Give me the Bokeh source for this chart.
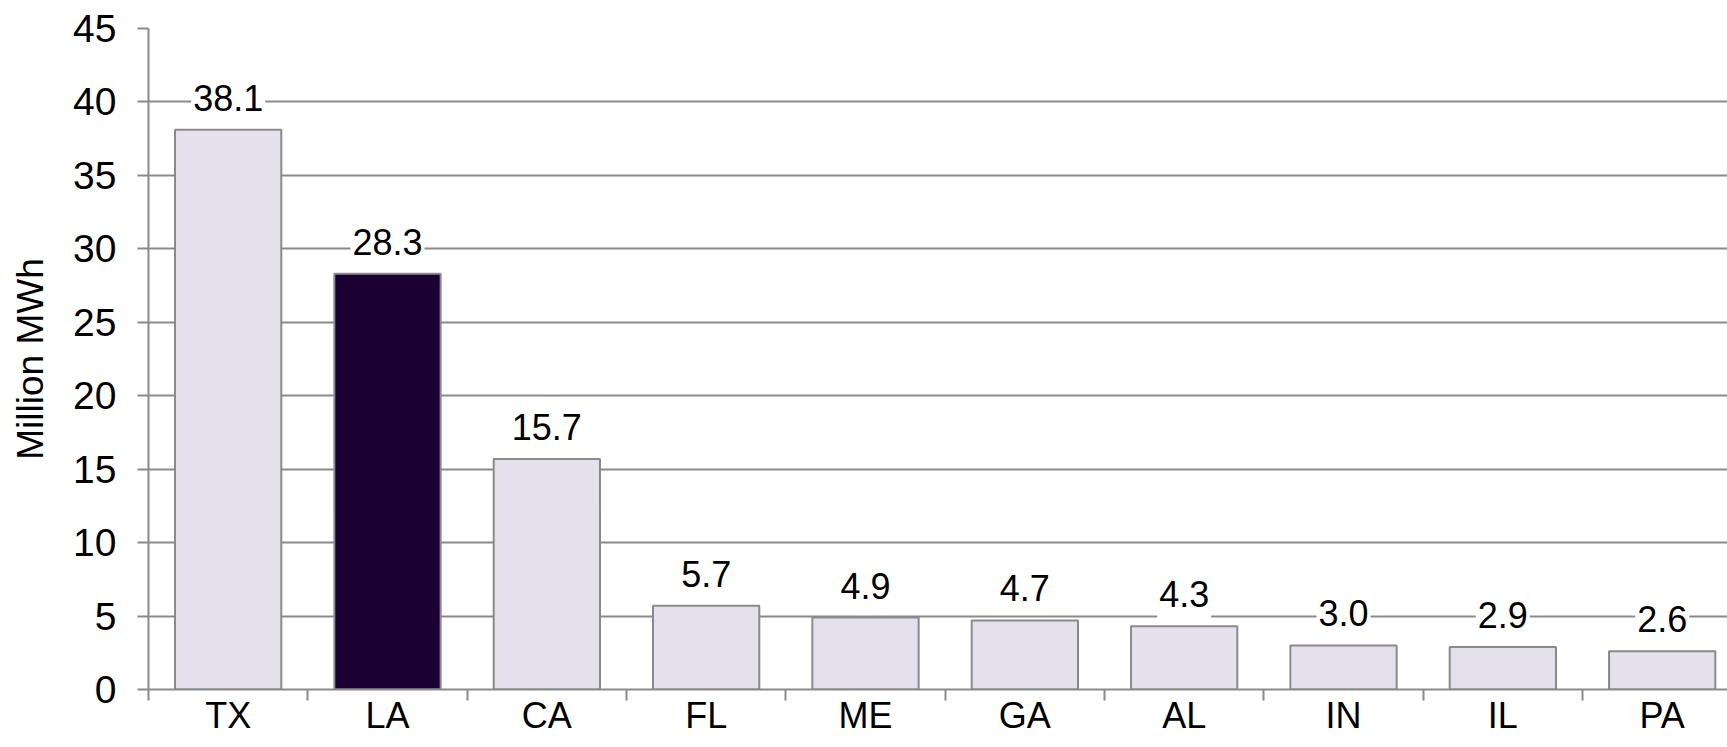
from bokeh.plotting import figure
from bokeh.models import ColumnDataSource, Range1d, FixedTicker
from bokeh.core.properties import value
from bokeh.embed import file_html
from bokeh.resources import INLINE

# ---- data ----
states = ["TX", "LA", "CA", "FL", "ME", "GA", "AL", "IN", "IL", "PA"]
values = [38.1, 28.3, 15.7, 5.7, 4.9, 4.7, 4.3, 3.0, 2.9, 2.6]
value_labels = ["38.1", "28.3", "15.7", "5.7", "4.9", "4.7", "4.3", "3.0", "2.9", "2.6"]
highlight = "LA"
y_ticks = [0, 5, 10, 15, 20, 25, 30, 35, 40, 45]

LIGHT = "#E4E0EC"
DARK = "#1A0033"
GREY = "#8A8A8A"
FONT = "Liberation Sans"

centers = [i + 0.5 for i in range(len(states))]
bounds = [float(i) for i in range(len(states))]
colors = [DARK if s == highlight else LIGHT for s in states]

src = ColumnDataSource(dict(x=centers, top=values, color=colors, label=value_labels, state=states))

p = figure(width=1727, height=738, output_backend="svg", toolbar_location=None,
           x_range=Range1d(0, 9.91), y_range=Range1d(0, 45),
           min_border_left=148, min_border_top=28, min_border_right=0, min_border_bottom=40)
p.outline_line_color = None
p.background_fill_color = "white"
p.border_fill_color = "white"

p.vbar(x="x", top="top", width=0.667, bottom=0, source=src, fill_color="color",
       line_color=GREY, line_width=2)

p.text(x="x", y="top", text="label", source=src, text_align="center",
       text_baseline="alphabetic", y_offset=-32, text_font=value(FONT),
       text_font_size="36px", text_color="black",
       background_fill_color="white", padding=(2, 11))

# grid
p.xgrid.grid_line_color = None
p.ygrid.grid_line_color = GREY
p.ygrid.grid_line_width = 2
p.ygrid.ticker = FixedTicker(ticks=y_ticks)

# y axis
ya = p.yaxis[0]
ya.ticker = FixedTicker(ticks=y_ticks)
ya.axis_line_color = GREY
ya.axis_line_width = 2
ya.major_tick_line_color = GREY
ya.major_tick_line_width = 2
ya.major_tick_out = 11
ya.major_tick_in = 0
ya.minor_tick_line_color = None
ya.major_label_standoff = 21
ya.major_label_text_font = FONT
ya.major_label_text_font_size = "39px"
ya.major_label_text_color = "black"
ya.axis_label = "Million MWh"
ya.axis_label_text_font = FONT
ya.axis_label_text_font_size = "37px"
ya.axis_label_text_font_style = "normal"
ya.axis_label_text_color = "black"
ya.axis_label_standoff = 19

# x axis
xa = p.xaxis[0]
xa.ticker = FixedTicker(ticks=centers, minor_ticks=bounds)
xa.major_label_overrides = {c: s for c, s in zip(centers, states)}
xa.axis_line_color = GREY
xa.axis_line_width = 2
xa.major_tick_line_color = None
xa.major_tick_out = 0
xa.major_tick_in = 0
xa.minor_tick_line_color = GREY
xa.minor_tick_line_width = 2
xa.minor_tick_out = 11
xa.minor_tick_in = 0
xa.major_label_standoff = -6
xa.major_label_text_font = FONT
xa.major_label_text_font_size = "36px"
xa.major_label_text_color = "black"

open("out.html", "w").write(file_html(p, INLINE))
